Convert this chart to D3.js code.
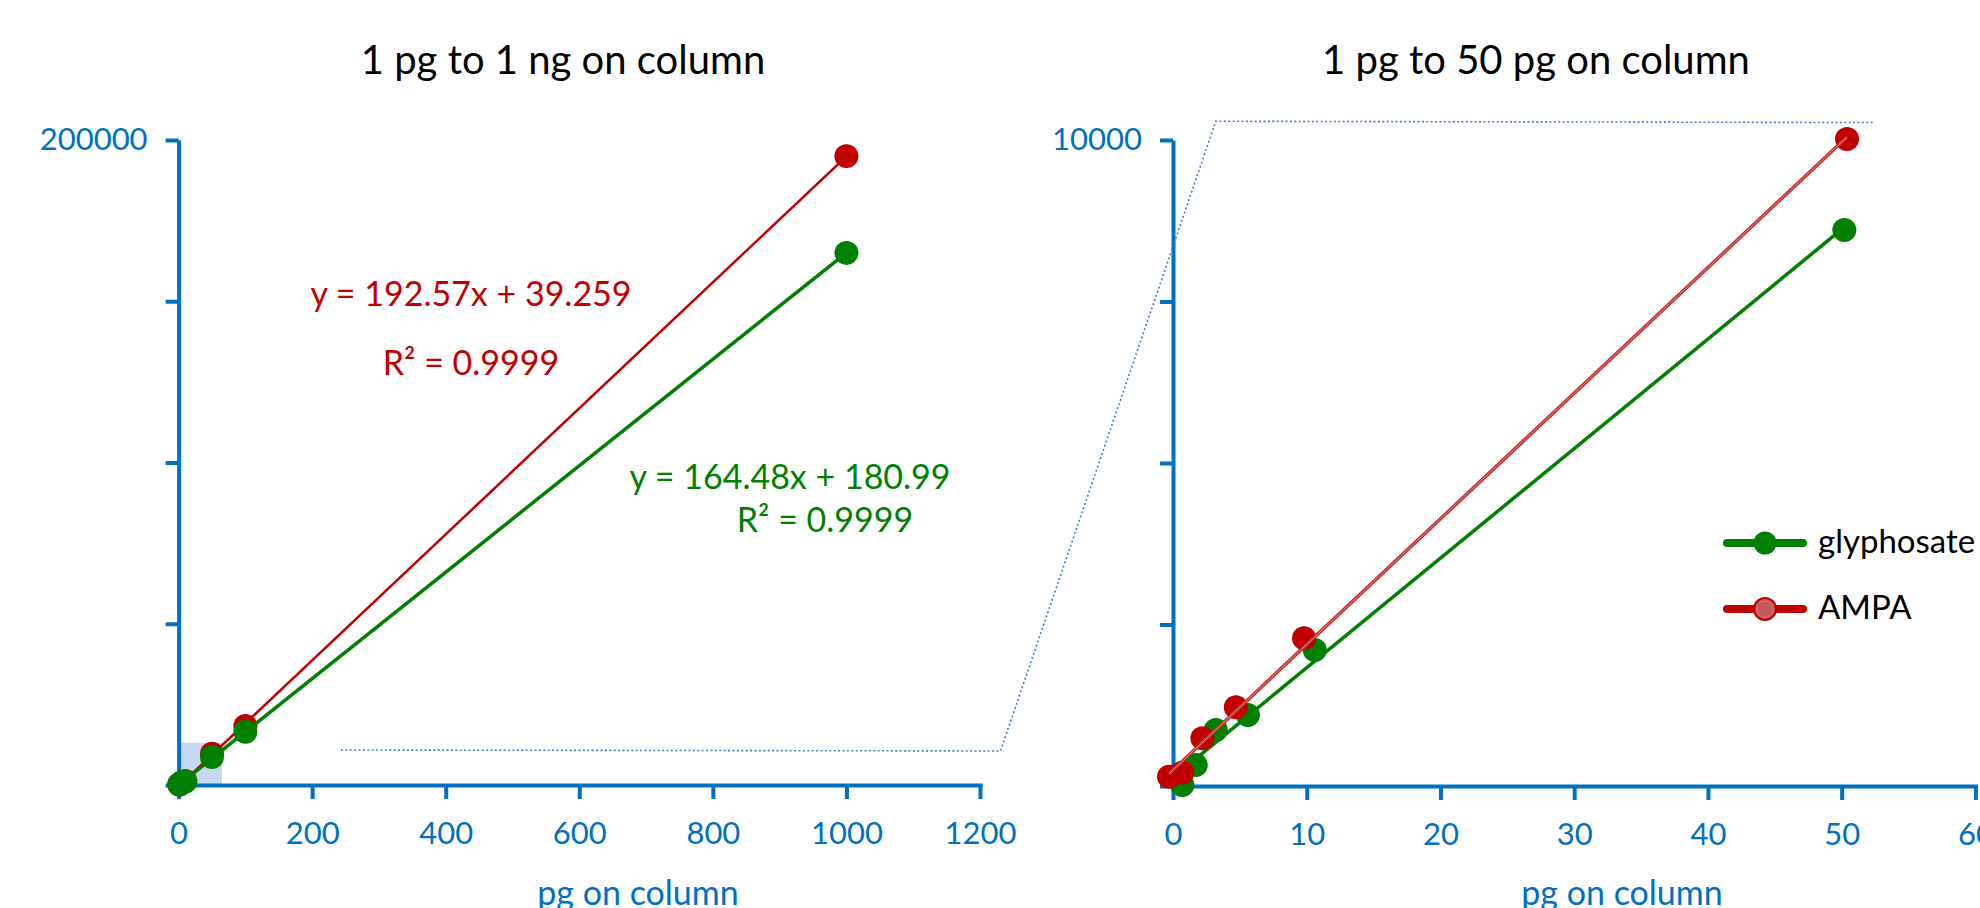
<!DOCTYPE html>
<html>
<head>
<meta charset="utf-8">
<script src="https://cdn.jsdelivr.net/npm/d3@7.9.0/dist/d3.min.js"></script>
<style>
  html, body { margin: 0; padding: 0; background: #fff; }
  svg { display: block; font-family: Lato, "Open Sans", sans-serif; }
  .axis path, .axis line { stroke: #0070c0; stroke-width: 4; }
  .axis text { fill: #0070c0; font-size: 31px; font-family: Lato, sans-serif; }
</style>
</head>
<body>
<svg id="chart" width="1980" height="908"></svg>
<script>
// full range chart, pg on column vs. peak area
const fullAmounts = [1, 2, 5, 10, 50, 100, 1000];
const fullGlyphosate = [180, 330, 860, 1100, 8700, 16500, 165000];
const fullAmpa = [150, 210, 740, 1220, 9700, 18300, 195000];

// low range chart, read per series (points are slightly offset in the picture)
const lowGlyX = [0.7, 1.7, 3.2, 5.6, 10.6, 50.2];
const lowGlyY = [15, 325, 867, 1100, 2105, 8607];
const lowAmpaX = [-0.3, 0.7, 2.2, 4.7, 9.8, 50.4];
const lowAmpaY = [144, 206, 738, 1218, 2286, 10015];

const titles = ["1 pg to 1 ng on column", "1 pg to 50 pg on column"];
const xTitle = "pg on column";
const fullXTicks = [0, 200, 400, 600, 800, 1000, 1200];
const fullYTicks = [0, 50000, 100000, 150000, 200000];
const lowXTicks = [0, 10, 20, 30, 40, 50, 60];
const lowYTicks = [0, 2500, 5000, 7500, 10000];

const ampaEq = ["y = 192.57x + 39.259", "R² = 0.9999"];
const glyEq = ["y = 164.48x + 180.99", "R² = 0.9999"];
const seriesNames = ["glyphosate", "AMPA"];

// zoomed region shown in the full chart, and the connector to the low chart
const zoomBox = { x: [0, 65], y: [0, 13100] };
const connectorStart = [243, 10850];           // full chart units
const connectorRest = [[-12.9, 542], [3.2, 10290], [52.4, 10270]]; // low chart units

const GREEN = "#008000";
const RED = "#c00000";
const BLUE = "#0070c0";

const svg = d3.select("#chart");

const xFull = d3.scaleLinear().domain([0, 1200]).range([178.6, 980]);
const yFull = d3.scaleLinear().domain([0, 200000]).range([785, 140]);
const xLow = d3.scaleLinear().domain([0, 60]).range([1173, 1975.4]);
const yLow = d3.scaleLinear().domain([0, 10000]).range([786, 140]);

function fit(xs, ys) {
  const mx = d3.mean(xs), my = d3.mean(ys);
  let num = 0, den = 0;
  xs.forEach((x, i) => { num += (x - mx) * (ys[i] - my); den += (x - mx) ** 2; });
  const slope = num / den;
  return { slope, intercept: my - slope * mx };
}

function trend(g, xs, ys, xScale, yScale, color, width) {
  const f = fit(xs, ys);
  const ends = d3.extent(xs).map(x => [x, f.intercept + f.slope * x]);
  return g.append("path")
    .attr("d", d3.line().x(d => xScale(d[0])).y(d => yScale(d[1]))(ends))
    .attr("fill", "none")
    .attr("stroke", color)
    .attr("stroke-width", width);
}

function dots(g, xs, ys, xScale, yScale, color) {
  g.selectAll(null)
    .data(xs.map((x, i) => [x, ys[i]]))
    .join("circle")
    .attr("cx", d => xScale(d[0]))
    .attr("cy", d => yScale(d[1]))
    .attr("r", 12)
    .attr("fill", color);
}

function axes(g, xScale, yScale, xTicks, yTicks, topLabel) {
  g.append("g").attr("class", "axis")
    .attr("transform", `translate(0,${yScale(0)})`)
    .call(d3.axisBottom(xScale).tickValues(xTicks).tickFormat(d3.format("d"))
      .tickSize(14).tickSizeOuter(0).tickPadding(23))
    .call(a => a.select(".domain").attr("stroke-linecap", "square"));
  g.append("g").attr("class", "axis")
    .attr("transform", `translate(${xScale(0)},0)`)
    .call(d3.axisLeft(yScale).tickValues(yTicks).tickSize(13).tickSizeOuter(0).tickPadding(18)
      .tickFormat(d => d === topLabel ? String(d) : ""));
}

// ---- full range panel ----
const left = svg.append("g");
left.append("rect")
  .attr("x", xFull(zoomBox.x[0]))
  .attr("y", yFull(zoomBox.y[1]))
  .attr("width", xFull(zoomBox.x[1]) - xFull(zoomBox.x[0]))
  .attr("height", yFull(zoomBox.y[0]) - yFull(zoomBox.y[1]))
  .attr("fill", "#c6d9f0");

axes(left, xFull, yFull, fullXTicks, fullYTicks, 200000);

trend(left, fullAmounts, fullAmpa, xFull, yFull, RED, 2.5);
dots(left, fullAmounts, fullAmpa, xFull, yFull, RED);
trend(left, fullAmounts, fullGlyphosate, xFull, yFull, GREEN, 3.5);
dots(left, fullAmounts, fullGlyphosate, xFull, yFull, GREEN);

// ---- low range panel ----
const right = svg.append("g");
axes(right, xLow, yLow, lowXTicks, lowYTicks, 10000);

trend(right, lowGlyX, lowGlyY, xLow, yLow, GREEN, 3.5);
dots(right, lowGlyX, lowGlyY, xLow, yLow, GREEN);
dots(right, lowAmpaX, lowAmpaY, xLow, yLow, RED);
trend(right, lowAmpaX, lowAmpaY, xLow, yLow, "#c42c2c", 3.5);
trend(right, lowAmpaX, lowAmpaY, xLow, yLow, "#dc8a8a", 1);

// connector between the two panels
const connector = [[xFull(connectorStart[0]), yFull(connectorStart[1])]]
  .concat(connectorRest.map(d => [xLow(d[0]), yLow(d[1])]));
svg.append("path")
  .attr("d", d3.line()(connector))
  .attr("fill", "none")
  .attr("stroke", "#4a7fc8")
  .attr("stroke-width", 1.6)
  .attr("stroke-dasharray", "2 2.4");

// titles
svg.selectAll(".title")
  .data(titles)
  .join("text")
  .attr("class", "title")
  .attr("x", (d, i) => i === 0 ? 563 : 1536)
  .attr("y", 74)
  .attr("text-anchor", "middle")
  .attr("font-size", 40)
  .attr("fill", "#000")
  .text(d => d);

// x axis titles
[[xFull, 638], [xLow, 1622]].forEach(([s, cx]) => {
  svg.append("text")
    .attr("x", cx)
    .attr("y", 905)
    .attr("text-anchor", "middle")
    .attr("font-size", 34)
    .attr("fill", BLUE)
    .text(xTitle);
});

// regression labels
svg.selectAll(".ampaEq")
  .data(ampaEq)
  .join("text")
  .attr("x", 471)
  .attr("y", (d, i) => i === 0 ? 306 : 375)
  .attr("text-anchor", "middle")
  .attr("font-size", 34)
  .attr("fill", RED)
  .text(d => d);
svg.selectAll(".glyEq")
  .data(glyEq)
  .join("text")
  .attr("x", (d, i) => i === 0 ? 790 : 825)
  .attr("y", (d, i) => i === 0 ? 489 : 532)
  .attr("text-anchor", "middle")
  .attr("font-size", 34)
  .attr("fill", GREEN)
  .text(d => d);

// legend
const legend = svg.append("g").attr("transform", "translate(1727,543)");
seriesNames.forEach((name, i) => {
  const row = legend.append("g").attr("transform", `translate(0,${i * 66})`);
  const color = i === 0 ? GREEN : RED;
  row.append("line")
    .attr("x1", 0).attr("x2", 76)
    .attr("stroke", color)
    .attr("stroke-width", 8)
    .attr("stroke-linecap", "round");
  if (i === 0) {
    row.append("circle").attr("cx", 38).attr("r", 11.5).attr("fill", color);
  } else {
    row.append("circle").attr("cx", 38).attr("r", 11).attr("fill", "#c45858")
      .attr("stroke", RED).attr("stroke-width", 2);
    row.append("circle").attr("cx", 38).attr("r", 8).attr("fill", "none")
      .attr("stroke", "#d77070").attr("stroke-width", 1);
  }
  row.append("text")
    .attr("x", 91)
    .attr("y", 10)
    .attr("font-size", 33)
    .attr("fill", "#000")
    .text(name);
});
</script>
</body>
</html>
